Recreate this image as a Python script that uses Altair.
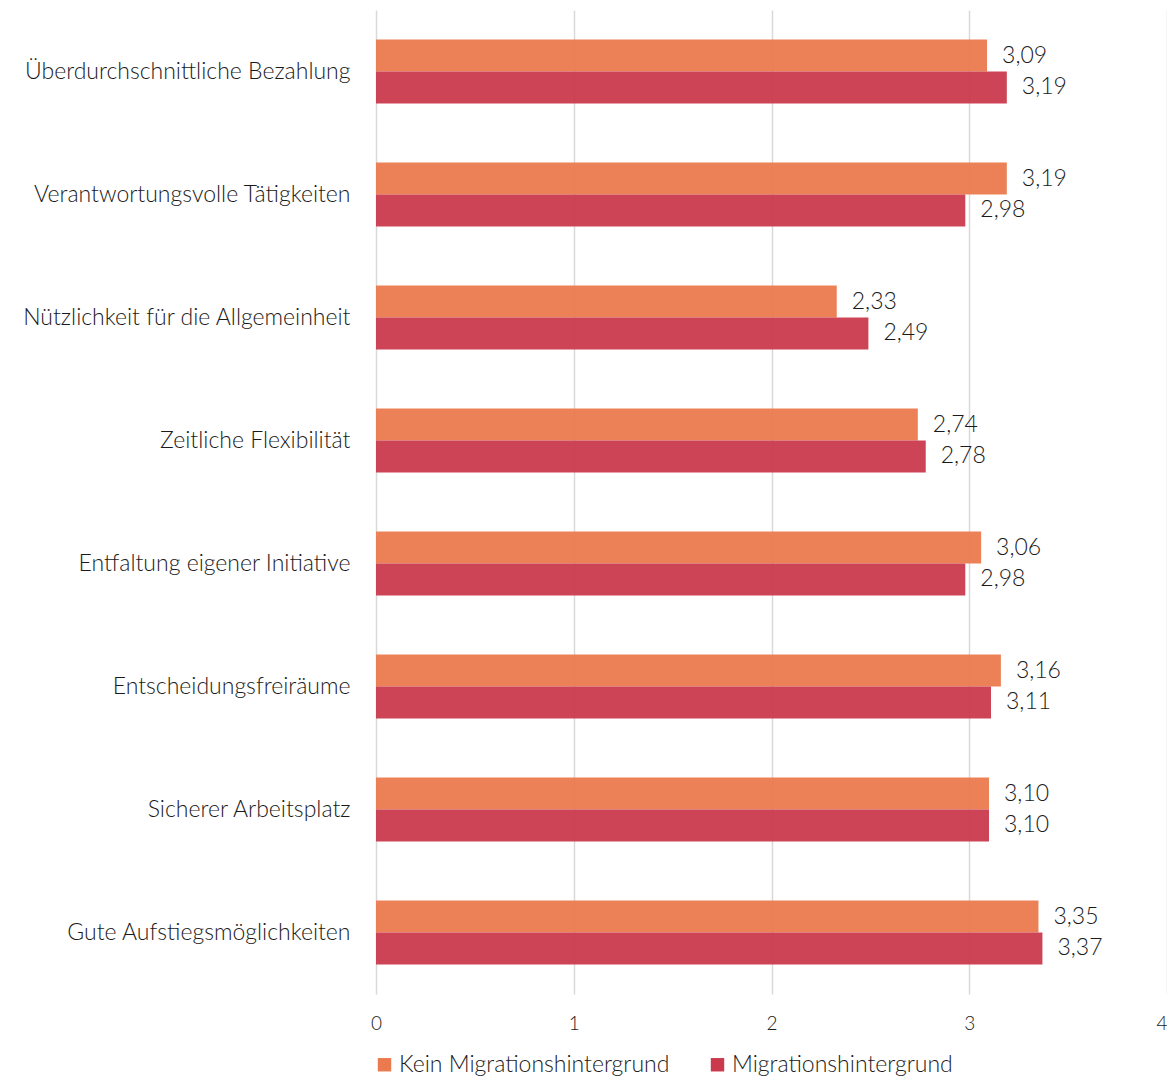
import altair as alt
import pandas as pd

categories = [
    "Überdurchschnittliche Bezahlung",
    "Verantwortungsvolle Tätigkeiten",
    "Nützlichkeit für die Allgemeinheit",
    "Zeitliche Flexibilität",
    "Entfaltung eigener Initiative",
    "Entscheidungsfreiräume",
    "Sicherer Arbeitsplatz",
    "Gute Aufstiegsmöglichkeiten",
]
series = ["Kein Migrationshintergrund", "Migrationshintergrund"]
kein = [3.09, 3.19, 2.33, 2.74, 3.06, 3.16, 3.10, 3.35]
migr = [3.19, 2.98, 2.49, 2.78, 2.98, 3.11, 3.10, 3.37]
colors = ["#EB7A4E", "#C93A4C"]

rows = []
for c, a, b in zip(categories, kein, migr):
    rows.append({"cat": c, "series": series[0], "v": a})
    rows.append({"cat": c, "series": series[1], "v": b})
df = pd.DataFrame(rows)

FONT = "Lato"
FS = 23

base = alt.Chart(df).encode(
    y=alt.Y("cat:N", sort=categories, title=None,
            scale=alt.Scale(paddingInner=0.48, paddingOuter=0.24),
            axis=alt.Axis(domain=False, ticks=False, labelPadding=26,
                          labelFontSize=FS, labelFont=FONT, labelFontWeight=300,
                          labelColor="#1a1a1a", labelLimit=400)),
    yOffset=alt.YOffset("series:N", sort=series),
)

bars = base.mark_bar(opacity=0.95).encode(
    x=alt.X("v:Q", title=None,
            scale=alt.Scale(domain=[0, 4], nice=False),
            axis=alt.Axis(values=[0, 1, 2, 3, 4], format="d", domain=False, ticks=False,
                          grid=True, gridColor="#d9d9d9", gridWidth=1.5,
                          labelFlush=False, labelOverlap=False,
                          labelAlign={"expr": "datum.value == 4 ? 'right' : 'center'"},
                          labelPadding=20, labelFontSize=19, labelFont=FONT,
                          labelFontWeight=300, labelColor="#1a1a1a")),
    color=alt.Color("series:N", sort=series,
                    scale=alt.Scale(domain=series, range=colors),
                    legend=alt.Legend(title=None, orient="none", direction="horizontal",
                                      legendX=-3, legendY=1043,
                                      symbolType="square", symbolSize=180,
                                      symbolStrokeWidth=0, symbolOpacity=1,
                                      labelFontSize=FS, labelFont=FONT,
                                      labelFontWeight=300, labelColor="#1a1a1a",
                                      labelLimit=400,
                                      columnPadding=36, labelOffset=3)),
)

labels = base.mark_text(align="left", baseline="middle", dx=15,
                        fontSize=FS, font=FONT, fontWeight=300,
                        color="#1a1a1a").transform_calculate(
    lab="replace(format(datum.v, '.2f'), '.', ',')"
).encode(
    x="v:Q",
    text="lab:N",
)

chart = alt.layer(bars, labels).properties(
    width=791, height=984,
    background="white",
    autosize=alt.AutoSizeParams(type="none"),
    padding={"left": 368, "top": 2, "right": 0, "bottom": 84},
).configure_view(strokeWidth=0, stroke="transparent")

chart.save("out.html", embed_options={"renderer": "svg", "actions": False})
